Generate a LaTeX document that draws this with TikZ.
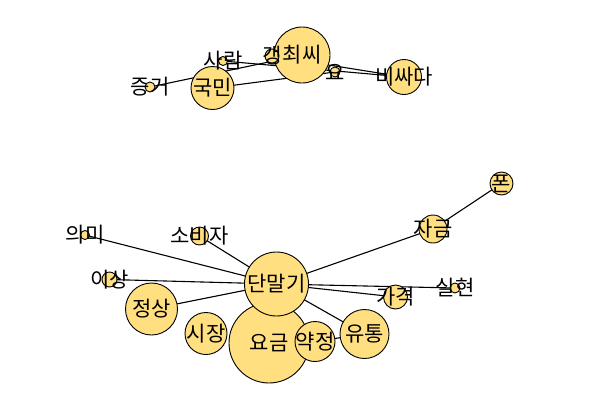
\documentclass[tikz,border=0pt]{standalone}
\usepackage{fontspec}
\newfontfamily\kr{Noto Sans CJK KR}
\usetikzlibrary{backgrounds}
\definecolor{nodefill}{RGB}{255,223,128}
\tikzset{
  nd/.style={circle, draw=black, fill=nodefill, line width=0.9pt, inner sep=0pt, minimum size=#1},
  lbl/.style={font=\kr\fontsize{21}{21}\selectfont, inner sep=0pt, text=black},
  edge/.style={draw=black, line width=1.1pt}
}
\begin{document}
\begin{tikzpicture}[x=1pt,y=-1pt]
\useasboundingbox (0,0) rectangle (600,400);
% top cluster
\node[nd=56pt] (choessi) at (302,55) {};
\node[nd=14pt] (gaeng) at (272,56) {};
\node[nd=9pt] (saram) at (223,61) {};
\node[nd=10pt] (jeunggeo) at (150,87) {};
\node[nd=43pt] (gukmin) at (212.5,88) {};
\node[nd=10pt] (yo) at (335,72) {};
\node[nd=35pt] (bissada) at (404,77) {};
% bottom cluster
\node[nd=80pt] (yogeum) at (269,343) {};
\node[nd=64pt] (danmalgi) at (276.5,284) {};
\node[nd=40pt] (yakjeong) at (315,341.5) {};
\node[nd=49pt] (yutong) at (364.5,334) {};
\node[nd=42pt] (sijang) at (206,333.5) {};
\node[nd=52pt] (jeongsang) at (151.5,309) {};
\node[nd=15pt] (isang) at (109.5,279.5) {};
\node[nd=9pt] (uimi) at (85,235) {};
\node[nd=18pt] (sobija) at (199.5,236) {};
\node[nd=28pt] (jageum) at (433,229) {};
\node[nd=23pt] (pon) at (501.5,183.5) {};
\node[nd=24pt] (gagyeok) at (395.5,297) {};
\node[nd=10pt] (silhyeon) at (455,288) {};
% edges behind
\begin{pgfonlayer}{background}
\draw[edge] (jeunggeo.center) -- (choessi.center);
\draw[edge] (gukmin.center) -- (yo.center);
\draw[edge] (saram.center) -- (bissada.center);
\draw[edge] (gaeng.center) -- (bissada.center);
\draw[edge] (danmalgi.center) -- (uimi.center);
\draw[edge] (danmalgi.center) -- (sobija.center);
\draw[edge] (danmalgi.center) -- (isang.center);
\draw[edge] (danmalgi.center) -- (jeongsang.center);
\draw[edge] (danmalgi.center) -- (jageum.center);
\draw[edge] (danmalgi.center) -- (silhyeon.center);
\draw[edge] (danmalgi.center) -- (gagyeok.center);
\draw[edge] (danmalgi.center) -- (yutong.center);
\draw[edge] (jageum.center) -- (pon.center);
\draw[edge] (yakjeong.center) -- (yutong.center);
\end{pgfonlayer}
% labels
\node[lbl] (l-choessi) at (choessi) {최씨};
\node[lbl] (l-gaeng) at (gaeng) {갱};
\node[lbl] (l-saram) at (saram) {사람};
\node[lbl] (l-jeunggeo) at (jeunggeo) {증거};
\node[lbl] (l-gukmin) at (gukmin) {국민};
\node[lbl] (l-yo) at (yo) {요};
\node[lbl] (l-bissada) at (bissada) {비싸다};
\node[lbl] (l-yogeum) at (yogeum) {요금};
\node[lbl] (l-danmalgi) at (danmalgi) {단말기};
\node[lbl] (l-yakjeong) at (yakjeong) {약정};
\node[lbl] (l-yutong) at (yutong) {유통};
\node[lbl] (l-sijang) at (sijang) {시장};
\node[lbl] (l-jeongsang) at (jeongsang) {정상};
\node[lbl] (l-isang) at (isang) {이상};
\node[lbl] (l-uimi) at (uimi) {의미};
\node[lbl] (l-sobija) at (sobija) {소비자};
\node[lbl] (l-jageum) at (jageum) {자금};
\node[lbl] (l-pon) at (pon) {폰};
\node[lbl] (l-gagyeok) at (gagyeok) {가격};
\node[lbl] (l-silhyeon) at (silhyeon) {실현};
\end{tikzpicture}
\end{document}
